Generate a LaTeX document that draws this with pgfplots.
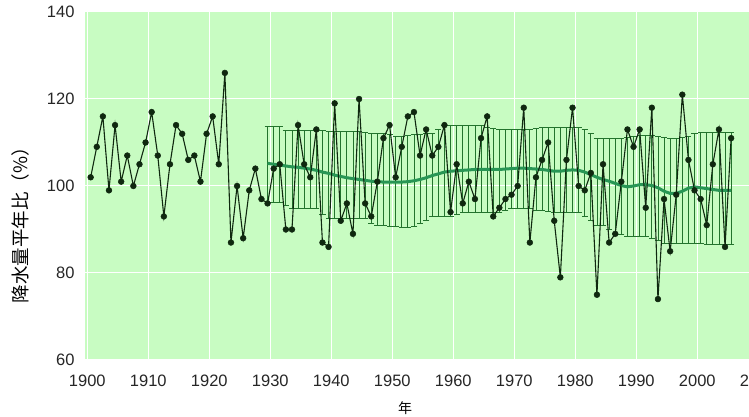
\documentclass[border=0pt]{standalone}
\usepackage{pgfplots}
\pgfplotsset{compat=1.18}
\usepackage{pgfplotstable}
\usepackage{fontspec}
\setmainfont{Liberation Sans}
\newfontfamily\cjk{Noto Sans CJK JP}
\definecolor{bg}{RGB}{200,252,194}
\definecolor{avg}{RGB}{40,150,85}
\definecolor{barc}{RGB}{35,115,45}
\definecolor{obs}{RGB}{15,40,15}

\pgfplotstableread{
year val
1900 102
1901 109
1902 116
1903 99
1904 114
1905 101
1906 107
1907 100
1908 105
1909 110
1910 117
1911 107
1912 93
1913 105
1914 114
1915 112
1916 106
1917 107
1918 101
1919 112
1920 116
1921 105
1922 126
1923 87
1924 100
1925 88
1926 99
1927 104
1928 97
1929 96
1930 104
1931 105
1932 90
1933 90
1934 114
1935 105
1936 102
1937 113
1938 87
1939 86
1940 119
1941 92
1942 96
1943 89
1944 120
1945 96
1946 93
1947 101
1948 111
1949 114
1950 102
1951 109
1952 116
1953 117
1954 107
1955 113
1956 107
1957 109
1958 114
1959 94
1960 105
1961 96
1962 101
1963 97
1964 111
1965 116
1966 93
1967 95
1968 97
1969 98
1970 100
1971 118
1972 87
1973 102
1974 106
1975 110
1976 92
1977 79
1978 106
1979 118
1980 100
1981 99
1982 103
1983 75
1984 105
1985 87
1986 89
1987 101
1988 113
1989 109
1990 113
1991 95
1992 118
1993 74
1994 97
1995 85
1996 98
1997 121
1998 106
1999 99
2000 97
2001 91
2002 105
2003 113
2004 86
2005 111
}\obstab

\pgfplotstableread{
year mean up lo
1929 105.2 113.7 96.3
1930 105.0 113.7 96.3
1931 104.8 113.7 96.3
1932 104.6 112.8 95.5
1933 104.4 112.8 94.8
1934 104.3 112.8 94.8
1935 104.1 112.8 94.8
1936 103.9 112.8 94.8
1937 103.6 112.8 94.8
1938 103.2 112.8 93.5
1939 102.9 112.5 92.5
1940 102.5 112.5 92.5
1941 102.2 112.5 92.5
1942 101.9 112.5 92.5
1943 101.7 112.5 92.5
1944 101.5 112.5 92.5
1945 101.3 112.3 92.5
1946 101.1 112.0 91.5
1947 101.0 112.0 91.0
1948 100.9 112.0 91.0
1949 100.9 111.8 90.6
1950 100.9 111.5 90.6
1951 100.9 111.5 90.4
1952 101.0 111.6 90.4
1953 101.2 111.8 90.8
1954 101.5 111.9 91.5
1955 101.9 112.0 92.0
1956 102.4 112.2 92.9
1957 102.8 113.0 92.9
1958 103.2 113.9 92.9
1959 103.4 113.9 92.9
1960 103.5 113.9 93.5
1961 103.6 113.9 94.0
1962 103.7 113.9 94.0
1963 103.8 113.9 94.0
1964 103.8 113.9 94.0
1965 103.8 113.5 94.0
1966 103.8 113.2 94.0
1967 103.8 113.0 94.0
1968 103.9 113.0 94.5
1969 104.0 113.0 94.8
1970 104.1 113.0 94.8
1971 104.1 113.0 94.8
1972 104.0 113.0 94.8
1973 103.9 113.2 94.5
1974 103.8 113.4 94.5
1975 103.6 113.5 94.2
1976 103.4 113.5 94.0
1977 103.4 113.5 94.0
1978 103.6 113.5 94.0
1979 103.7 113.5 94.0
1980 103.6 113.5 94.0
1981 103.2 113.0 93.0
1982 102.6 112.0 92.0
1983 102.0 111.0 91.0
1984 101.5 110.9 91.0
1985 101.1 110.9 90.0
1986 100.6 110.9 89.0
1987 100.1 111.0 88.8
1988 99.8 111.2 88.5
1989 100.0 111.5 88.5
1990 100.3 111.7 88.5
1991 100.3 111.7 88.5
1992 100.1 111.7 88.0
1993 99.6 111.5 87.5
1994 98.8 111.2 86.7
1995 98.3 111.0 86.7
1996 98.3 111.0 86.7
1997 98.8 111.2 86.7
1998 99.5 111.5 86.7
1999 99.8 112.0 86.7
2000 99.6 112.3 86.7
2001 99.4 112.4 86.6
2002 99.2 112.4 86.6
2003 99.0 112.4 86.6
2004 99.0 112.4 86.6
2005 99.0 112.4 86.6
}\avgtab

\begin{document}
\begin{tikzpicture}
\useasboundingbox (-85pt,-57pt) rectangle (664pt,360pt);
\begin{axis}[
  scale only axis, width=664pt, height=348pt,
  xmin=1899.62, xmax=2008.48, ymin=60, ymax=140,
  xtick={1900,1910,...,2000}, ytick={60,80,...,140},
  grid=major, major grid style={white, line width=1pt},
  axis background/.style={fill=bg},
  axis line style={draw=none}, major tick length=0pt,
  tick label style={font=\fontsize{16.5}{17}\selectfont, text=black!85},
  /pgf/number format/assume math mode=true,
  /pgf/number format/1000 sep={},
  xticklabel style={yshift=-11pt},
  yticklabel style={xshift=-7pt},
  xlabel={\cjk 年}, ylabel={\cjk 降水量平年比（\%）},
  xlabel style={at={(axis description cs:0.482,-0.138)},anchor=center,font=\fontsize{14}{14}\selectfont},
  ylabel style={at={(axis description cs:-0.0965,0.40)},anchor=center,font=\fontsize{18.5}{18.5}\selectfont},
  clip mode=individual,
]
\addplot[barc, mark=none, draw=none, forget plot,
  error bars/.cd, y dir=both, y explicit,
  error bar style={draw=barc, line width=0.8pt},
  error mark options={draw=barc, line width=0.8pt, mark size=3.05pt, rotate=90}]
  table[x expr=\thisrow{year}+0.55, y=mean,
        y error plus expr=\thisrow{up}-\thisrow{mean},
        y error minus expr=\thisrow{mean}-\thisrow{lo}]{\avgtab};
\addplot[avg, line width=3pt, mark=none] table[x expr=\thisrow{year}+0.55, y=mean]{\avgtab};
\addplot[obs, line width=1.1pt, mark=*, mark size=2.9pt, mark options={fill=obs, draw=obs, line width=0.5pt}]
  table[x expr=\thisrow{year}+0.55, y=val]{\obstab};
\node[anchor=north, yshift=-11pt, inner sep=0.3333em, text=black!85, font=\fontsize{16.5}{17}\selectfont] at (axis cs:2010,60) {2010};
\end{axis}
\end{tikzpicture}
\end{document}
